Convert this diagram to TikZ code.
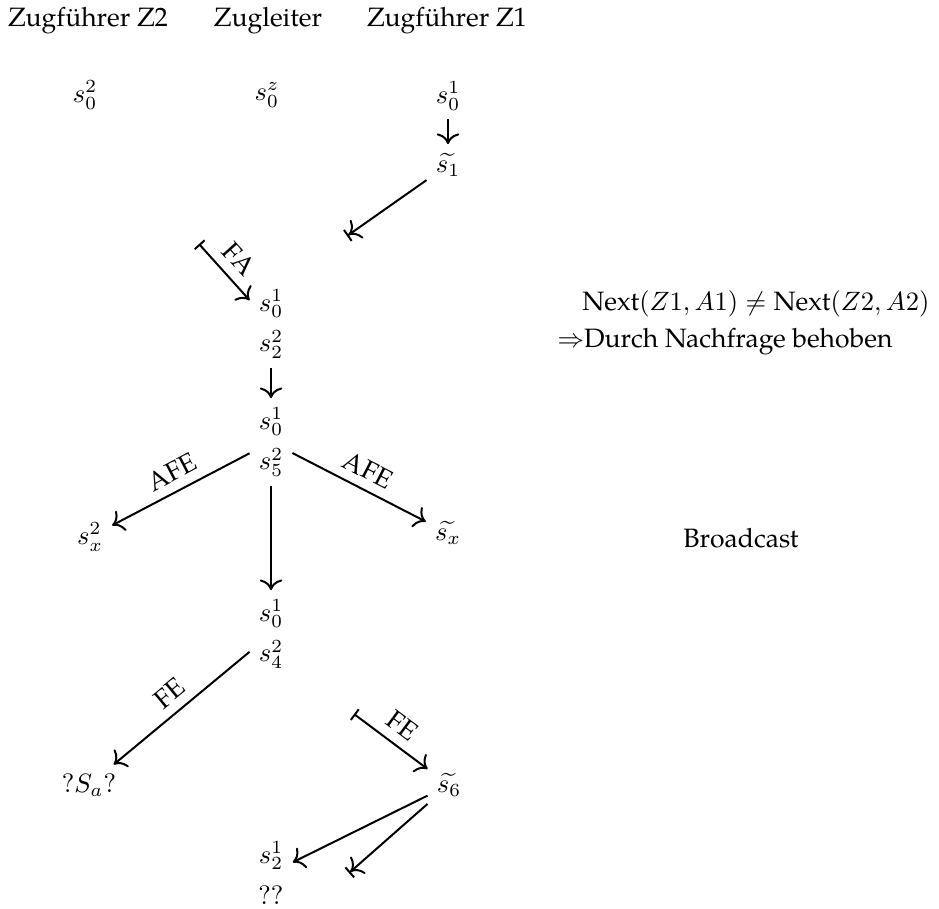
\documentclass[tikz,border=0pt]{standalone}
\usepackage{fontspec}
\setmainfont{TeX Gyre Pagella}
\usetikzlibrary{arrows.meta}

\begin{document}
\begin{tikzpicture}[
  x=0.377pt, y=-0.377pt,
  head/.style={inner sep=0pt},
  st/.style={inner sep=3.3pt, align=center},
  lbl/.style={midway, above=1.5pt, sloped, inner sep=2pt},
  edge/.style={line width=0.75pt, -{To[scale=1.25]}},
  cut/.style={line width=0.75pt, -{To[scale=1.25]Bar[width=5pt]}},
  cutin/.style={line width=0.75pt, {Bar[width=5pt]}-{To[scale=1.25]}},
]
\useasboundingbox (0,0) rectangle (939,908);

% column headings
\node[head] (hZ2) at (88,21)  {Zugführer Z2};
\node[head] (hZL) at (268,21) {Zugleiter};
\node[head] (hZ1) at (447,21) {Zugführer Z1};

% initial states
\node[st] (a2) at (85,95)  {$s_0^2$};
\node[st] (az) at (267,95) {$s_0^z$};
\node[st] (a1) at (448,96) {$s_0^1$};
\node[st] (t1) at (448,165) {$\widetilde{s_1}$};

% combined states
\node[st] (b) at (271,324) {$s_0^1$\\[3.4pt]$s_2^2$};
\node[st] (c) at (271,442) {$s_0^1$\\[3.4pt]$s_5^2$};
\node[st] (d) at (271,634) {$s_0^1$\\[3.4pt]$s_4^2$};
\node[st] (e) at (271,873) {$s_2^1$\\[3.4pt]$??$};

\node[st] (sx2) at (90,537)  {$s_x^2$};
\node[st] (tsx) at (448,533) {$\widetilde{s_x}$};
\node[st] (sa)  at (89,785)  {$?S_a?$};
\node[st] (t6)  at (449,785) {$\widetilde{s_6}$};

% loose ends of messages
\coordinate (u1)  at (347,236);
\coordinate (fa0) at (199,244);
\coordinate (fe0) at (354,714);
\coordinate (u2)  at (349,873);

% remarks
\node[head, anchor=east] (n1) at (930,304)
  {$\mathrm{Next}(Z1,A1)\neq\mathrm{Next}(Z2,A2)$};
\node[head, anchor=west] (n2) at (557,342)
  {$\Rightarrow$Durch Nachfrage behoben};
\node[head] (bc) at (741,538) {Broadcast};

% transitions
\draw[edge] (a1) -- (t1);
\draw[cut]  (t1) -- (u1);
\draw[cutin] (fa0) -- node[lbl] {$\mathrm{FA}$} (b);
\draw[edge] (b) -- (c);
\draw[edge] (c) -- node[lbl] {$\mathrm{AFE}$} (sx2);
\draw[edge] (c) -- node[lbl] {$\mathrm{AFE}$} (tsx);
\draw[edge] (c) -- (d);
\draw[edge] (d) -- node[lbl] {$\mathrm{FE}$} (sa);
\draw[cutin] (fe0) -- node[lbl] {$\mathrm{FE}$} (t6);
\draw[edge] (t6) -- (e);
\draw[cut]  (t6) -- (u2);
\end{tikzpicture}
\end{document}
